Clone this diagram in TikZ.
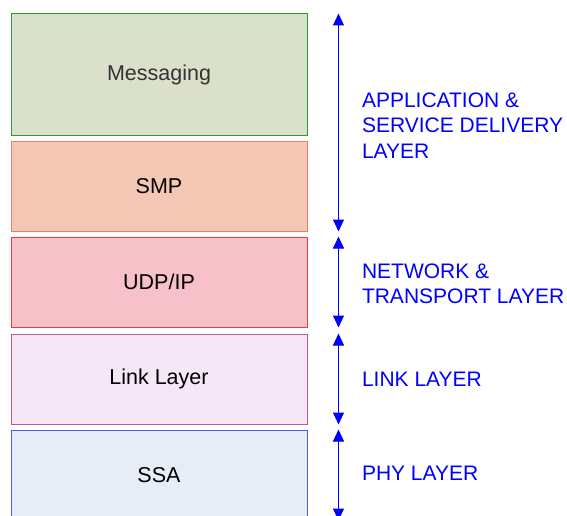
\documentclass[tikz,border=0pt]{standalone}
\usepackage{fontspec}
\setmainfont{Liberation Sans}
\usepackage{tikz}
\usetikzlibrary{arrows.meta}

\definecolor{msgfill}{HTML}{DAE0CA}
\definecolor{msgline}{HTML}{2E9A2E}
\definecolor{smpfill}{HTML}{F4C7B4}
\definecolor{smpline}{HTML}{F27A72}
\definecolor{udpfill}{HTML}{F7C1CA}
\definecolor{udpline}{HTML}{EE3B3B}
\definecolor{linkfill}{HTML}{F5E7F7}
\definecolor{linkline}{HTML}{B06090}
\definecolor{ssafill}{HTML}{E6EDF7}
\definecolor{ssaline}{HTML}{4B5BEF}

\begin{document}
\begin{tikzpicture}[
        x=1pt, y=1pt,
        layer/.style={draw, line width=1pt, minimum width=296pt,
            minimum height=90pt, inner sep=0pt,
            font=\fontsize{21.5}{25}\selectfont},
        span/.style={<->, >={Triangle[length=12pt,width=11pt]},
            blue, line width=1pt},
        side/.style={right=23pt, inner sep=0pt, align=left, text=blue,
            font=\fontsize{21}{25.5}\selectfont},
    ]
    \useasboundingbox (0,0) rectangle (567,-516);

    % stack
    \node[layer, draw=msgline, fill=msgfill, text=black!80,
          minimum height=121pt] (msg) at (159,-74.5) {Messaging};
    \node[layer, draw=smpline, fill=smpfill] (smp) at (159,-186) {SMP};
    \node[layer, draw=udpline, fill=udpfill] (udp) at (159,-282) {UDP/IP};
    \node[layer, draw=linkline, fill=linkfill] (link) at (159,-379) {Link Layer};
    \node[layer, draw=ssaline, fill=ssafill] (ssa) at (159,-475) {SSA};

    % ranges
    \draw[span] ([xshift=31pt]msg.north east) -- ([xshift=31pt]smp.south east)
        node[midway, side, yshift=-3pt] {APPLICATION \&\\SERVICE DELIVERY\\LAYER};
    \draw[span] ([xshift=31pt]udp.north east) -- ([xshift=31pt]udp.south east)
        node[midway, side, yshift=-2pt] {NETWORK \&\\TRANSPORT LAYER};
    \draw[span] ([xshift=31pt]link.north east) -- ([xshift=31pt]link.south east)
        node[midway, side] {LINK LAYER};
    \draw[span] ([xshift=31pt]ssa.north east) -- ([xshift=31pt]ssa.south east)
        node[midway, side, yshift=2pt] {PHY LAYER};
\end{tikzpicture}
\end{document}
